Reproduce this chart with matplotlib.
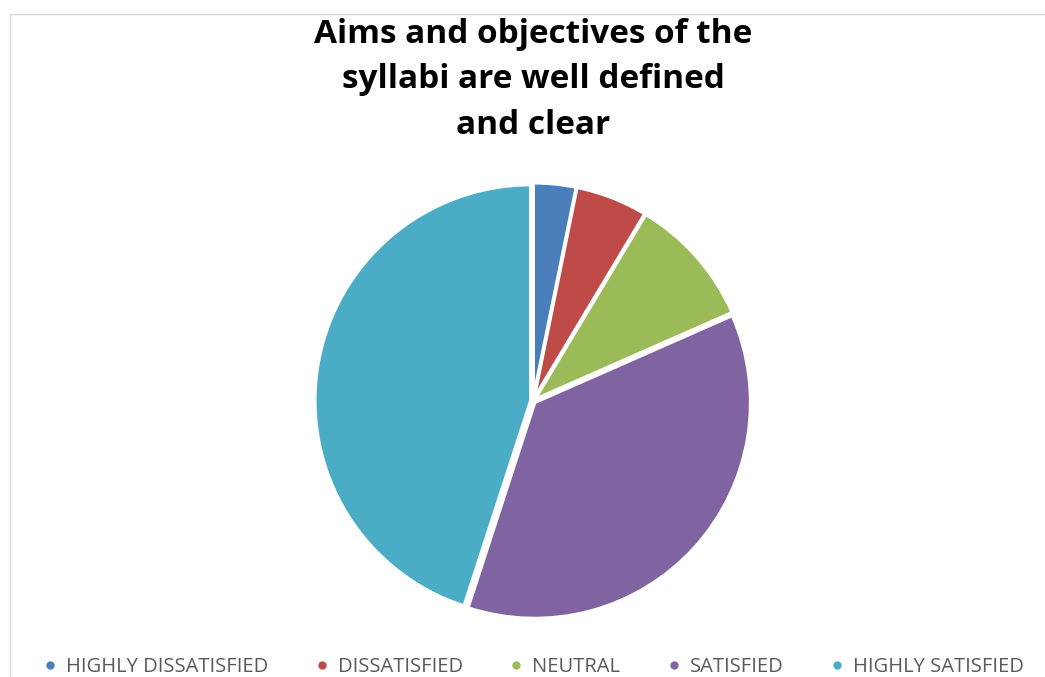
import matplotlib
matplotlib.use("Agg")
import matplotlib.pyplot as plt
from matplotlib.lines import Line2D

labels = ["HIGHLY DISSATISFIED", "DISSATISFIED", "NEUTRAL", "SATISFIED", "HIGHLY SATISFIED"]
values = [3.2, 5.4, 9.8, 36.6, 45.0]
colors = ["#4A7EBB", "#BE4B48", "#9BBB59", "#8064A2", "#4BACC6"]
title = "Aims and objectives of the\nsyllabi are well defined\nand clear"

W, H = 1045, 677
fig = plt.figure(figsize=(W / 100, H / 100), dpi=100)

# chart frame (left and top border)
fig.add_artist(Line2D([10 / W, 10 / W], [0, 1 - 14 / H], color="#D9D9D9", lw=1))
fig.add_artist(Line2D([10 / W, 1], [1 - 14 / H, 1 - 14 / H], color="#D9D9D9", lw=1))

cx, cy, box = 533, H - 401, 220
ax = fig.add_axes([(cx - box) / W, (cy - box) / H, 2 * box / W, 2 * box / H])
ax.pie(values, colors=colors, startangle=90, counterclock=False, radius=216 / box,
       explode=[0.01] * len(values),
       wedgeprops=dict(edgecolor="white", linewidth=2.5))
ax.set_xlim(-1, 1)
ax.set_ylim(-1, 1)
ax.set_aspect("equal")
ax.axis("off")

fig.text(cx / W, 1 - 80 / H, title, ha="center", va="center", fontsize=24,
         fontweight="bold", family="Open Sans", linespacing=1.5, color="black")

handles = [Line2D([], [], marker="o", ls="none", markersize=7, markerfacecolor=c,
                  markeredgecolor="white") for c in colors]
fig.legend(handles, labels, loc="center", bbox_to_anchor=(0.509, 1 - 667 / H), ncol=5,
           frameon=False, prop=dict(family="Open Sans", size=14.5), labelcolor="#595959",
           handletextpad=0.3, columnspacing=2.15, handlelength=1.0)

fig.savefig("out.png", dpi=100)
